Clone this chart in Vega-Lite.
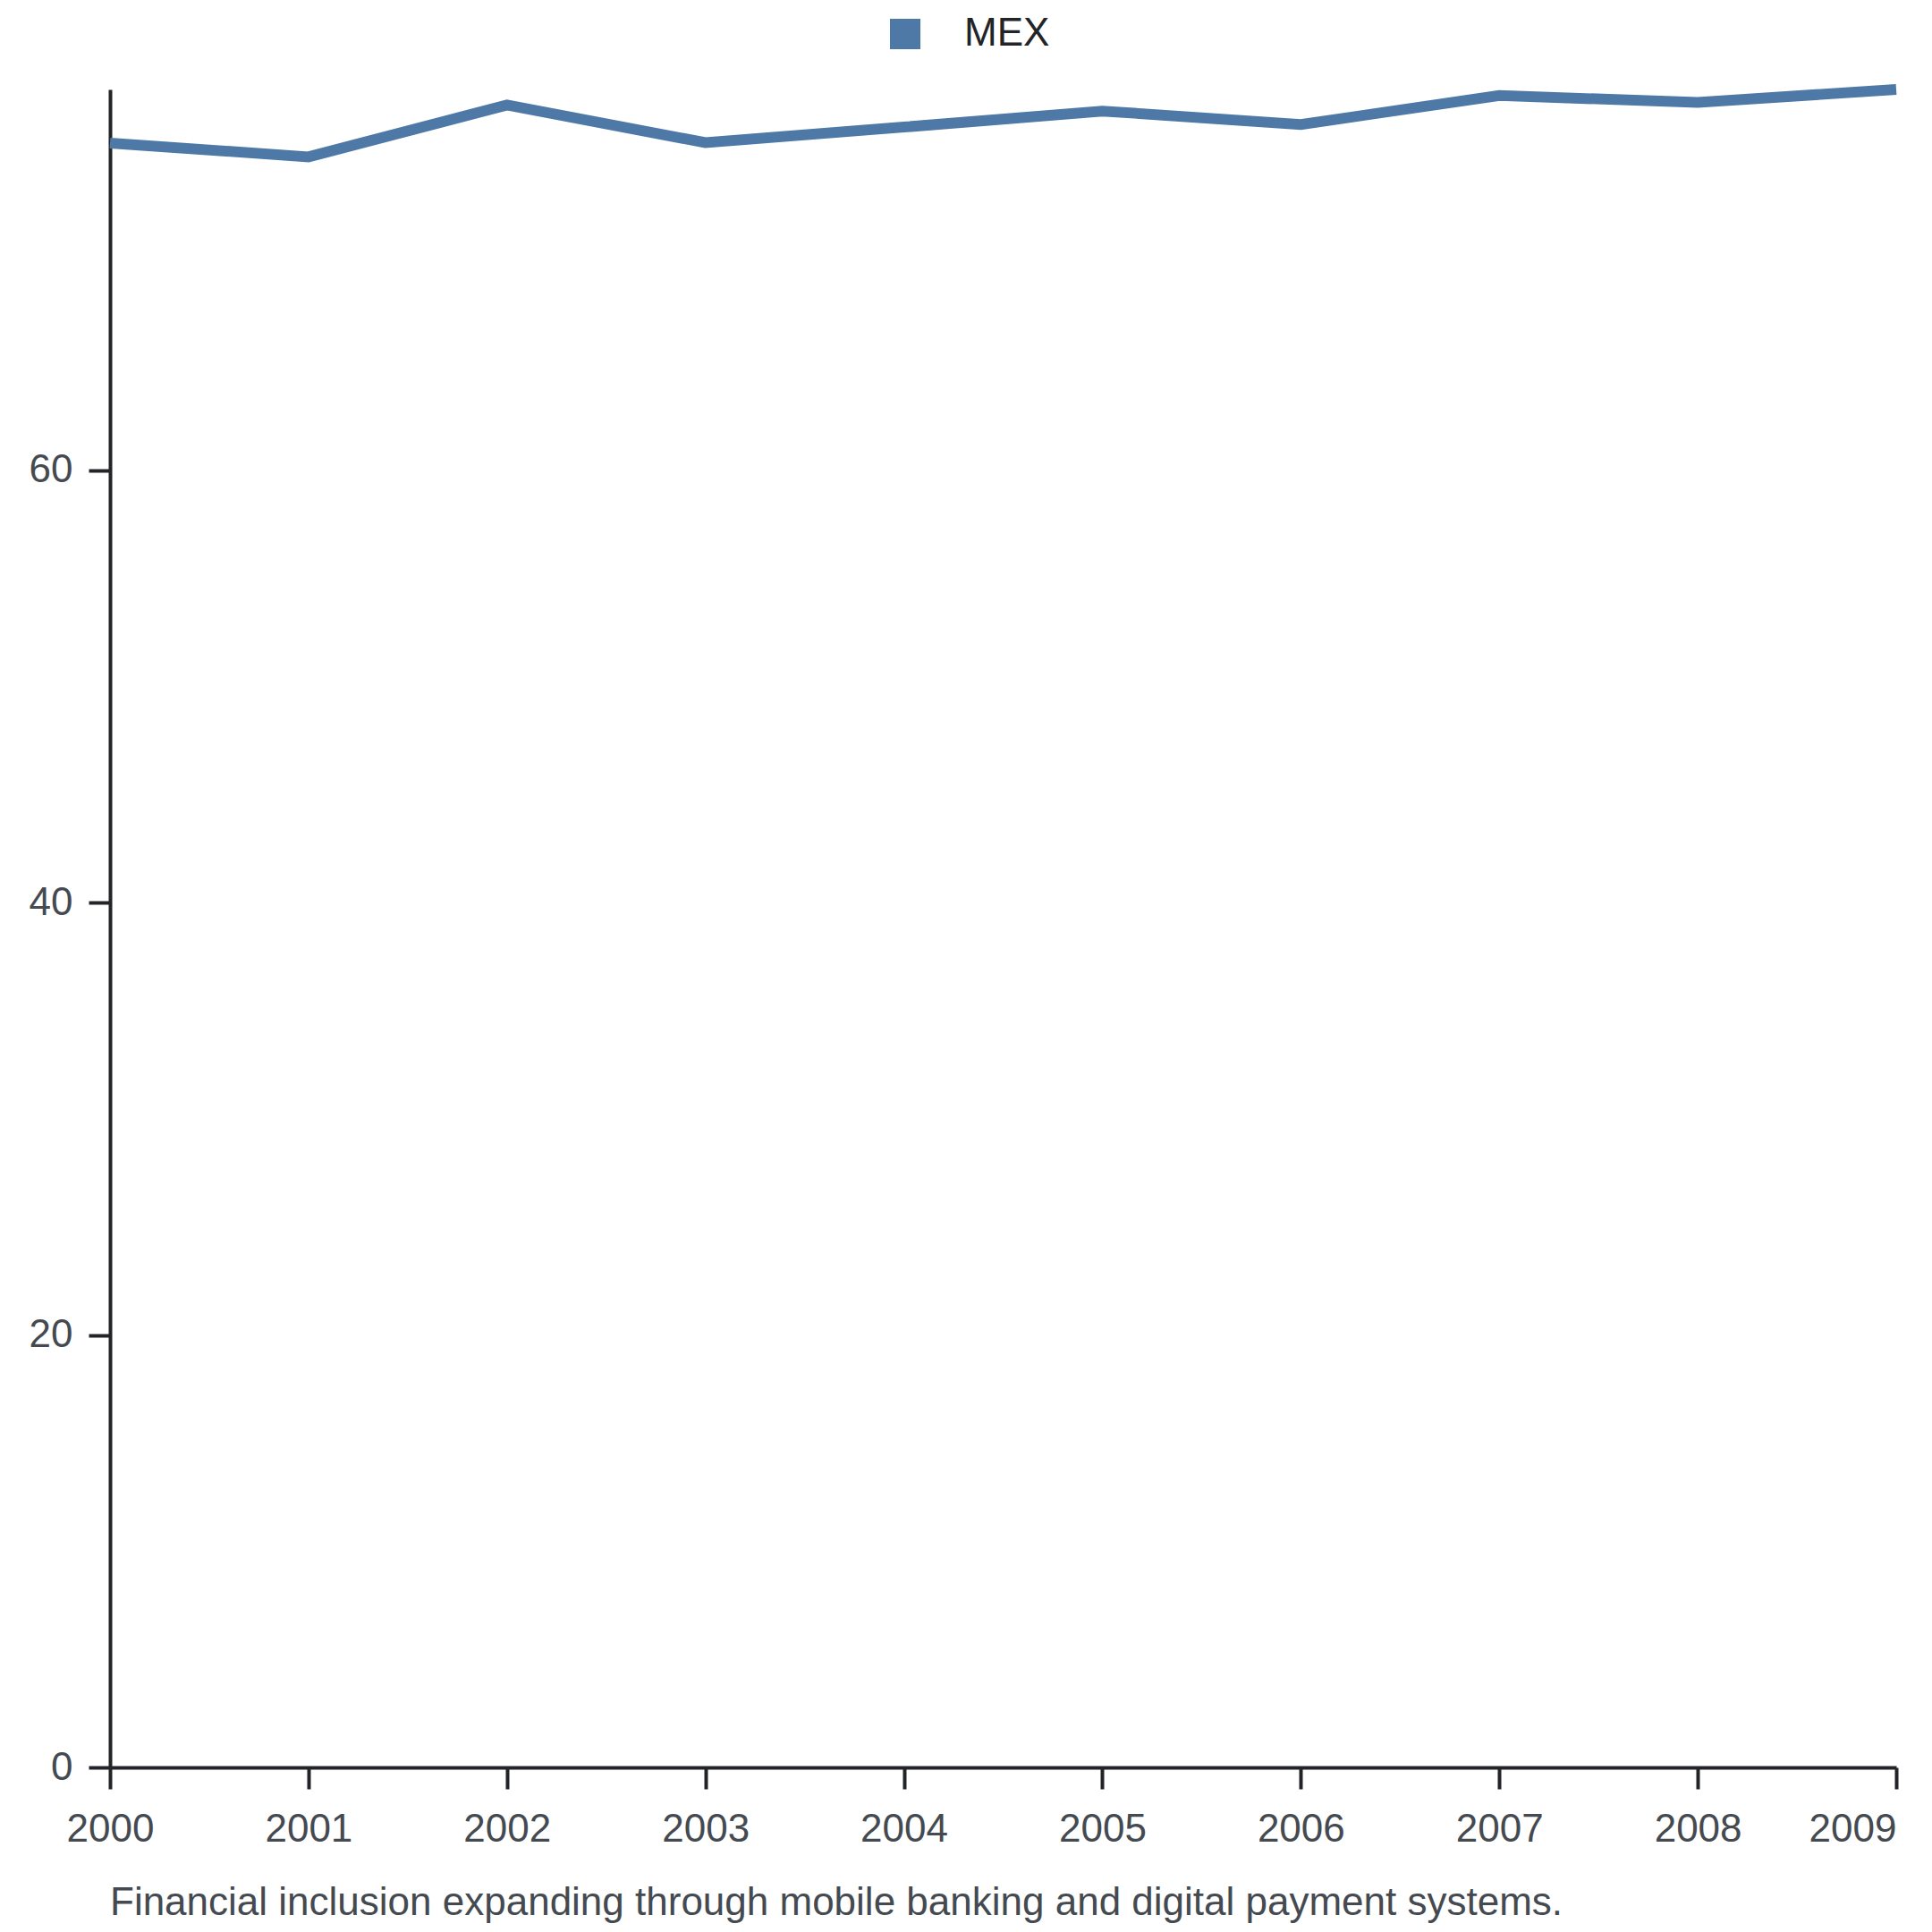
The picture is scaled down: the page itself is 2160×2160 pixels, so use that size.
{
  "$schema": "https://vega.github.io/schema/vega-lite/v6.json",
  "width": 1997,
  "height": 1876,
  "autosize": {"type": "none"},
  "padding": {"left": 123, "top": 100, "right": 40, "bottom": 184},
  "background": "white",
  "title": {
    "text": "Financial inclusion expanding through mobile banking and digital payment systems.",
    "orient": "bottom",
    "anchor": "start",
    "frame": "group",
    "font": "Liberation Sans",
    "fontSize": 44,
    "fontWeight": "normal",
    "color": "#444a50",
    "offset": 39
  },
  "data": {
    "values": [
      {"year": 2000, "value": 75.14, "country": "MEX"},
      {"year": 2001, "value": 74.50, "country": "MEX"},
      {"year": 2002, "value": 76.90, "country": "MEX"},
      {"year": 2003, "value": 75.16, "country": "MEX"},
      {"year": 2004, "value": 75.88, "country": "MEX"},
      {"year": 2005, "value": 76.62, "country": "MEX"},
      {"year": 2006, "value": 76.00, "country": "MEX"},
      {"year": 2007, "value": 77.34, "country": "MEX"},
      {"year": 2008, "value": 77.02, "country": "MEX"},
      {"year": 2009, "value": 77.62, "country": "MEX"}
    ]
  },
  "mark": {"type": "line", "strokeWidth": 12, "strokeJoin": "miter"},
  "encoding": {
    "x": {
      "field": "year",
      "type": "quantitative",
      "scale": {"domain": [2000, 2009], "nice": false, "zero": false},
      "axis": {
        "title": null,
        "values": [2000, 2001, 2002, 2003, 2004, 2005, 2006, 2007, 2008, 2009],
        "format": "d",
        "grid": false,
        "domainColor": "#222428",
        "domainWidth": 4,
        "tickColor": "#222428",
        "tickWidth": 4,
        "tickSize": 24,
        "labelFont": "Liberation Sans",
        "labelFontSize": 44,
        "labelColor": "#444a50",
        "labelPadding": 23,
        "labelAlign": {"condition": {"test": "datum.value == 2009", "value": "right"}, "value": "center"}
      }
    },
    "y": {
      "field": "value",
      "type": "quantitative",
      "scale": {"domain": [0, 77.62], "nice": false},
      "axis": {
        "title": null,
        "values": [0, 20, 40, 60],
        "grid": false,
        "domainColor": "#222428",
        "domainWidth": 4,
        "tickColor": "#222428",
        "tickWidth": 4,
        "tickSize": 24,
        "labelFont": "Liberation Sans",
        "labelFontSize": 44,
        "labelColor": "#444a50",
        "labelPadding": 18
      }
    },
    "color": {
      "field": "country",
      "type": "nominal",
      "scale": {"range": ["#4e79a7"]},
      "legend": {
        "title": null,
        "orient": "none",
        "legendX": 867,
        "legendY": -84,
        "direction": "horizontal",
        "padding": 0,
        "symbolType": "square",
        "symbolSize": 1156,
        "symbolFillColor": "#4e79a7",
        "symbolStrokeWidth": 0,
        "symbolOpacity": 1,
        "labelFont": "Liberation Sans",
        "labelFontSize": 44,
        "labelColor": "#222428",
        "labelOffset": 44
      }
    }
  },
  "config": {
    "view": {"stroke": null}
  }
}
